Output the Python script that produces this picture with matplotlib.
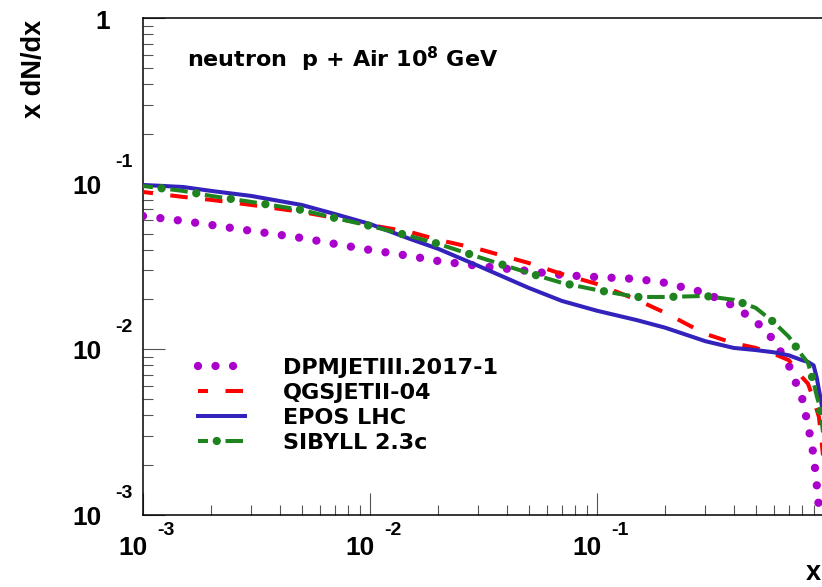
import matplotlib
matplotlib.use('Agg')
import matplotlib.pyplot as plt
from matplotlib.lines import Line2D
from matplotlib.transforms import offset_copy
from matplotlib.legend_handler import HandlerTuple

plt.rcParams['lines.scale_dashes'] = False
plt.rcParams['mathtext.fontset'] = 'dejavusans'

# x dN/dx of neutrons, p + Air at 1e8 GeV
x = [0.001, 0.0015, 0.002, 0.003, 0.005, 0.007, 0.01, 0.015, 0.02, 0.03,
     0.05, 0.07, 0.1, 0.15, 0.2, 0.3, 0.4, 0.5, 0.6, 0.7, 0.8, 0.85, 0.9,
     0.93, 0.95, 0.97, 1.0]
dpmjet = [0.0638, 0.0596, 0.0563, 0.0519, 0.0470, 0.0433, 0.0398, 0.0366, 0.0341, 0.0319,
          0.0297, 0.0281, 0.0273, 0.0266, 0.0252, 0.0219, 0.0183, 0.0148, 0.0114, 0.0080,
          0.0051, 0.0035, 0.0023, 0.0015, 0.0011, 0.0008, 0.0005]
qgsjet = [0.0891, 0.0832, 0.0798, 0.0744, 0.0675, 0.0621, 0.0563, 0.0511, 0.0458, 0.0404,
          0.0332, 0.0285, 0.0248, 0.0199, 0.0166, 0.0124, 0.0109, 0.0102, 0.0094, 0.0086,
          0.0068, 0.0062, 0.0050, 0.0043, 0.0039, 0.0030, 0.0020]
epos = [0.0982, 0.0955, 0.0904, 0.0843, 0.0744, 0.0656, 0.0571, 0.0464, 0.0404, 0.0319,
        0.0235, 0.0196, 0.0171, 0.0150, 0.0135, 0.0112, 0.0102, 0.0099, 0.0096, 0.0092,
        0.0086, 0.0084, 0.0080, 0.0067, 0.0057, 0.0049, 0.0038]
sibyll = [0.0968, 0.0904, 0.0843, 0.0776, 0.0694, 0.0621, 0.0556, 0.0483, 0.0433, 0.0361,
          0.0289, 0.0252, 0.0228, 0.0207, 0.0207, 0.0210, 0.0199, 0.0178, 0.0146, 0.0119,
          0.0092, 0.0083, 0.0063, 0.0052, 0.0047, 0.0040, 0.0028]

labels = ['DPMJETIII.2017-1', 'QGSJETII-04', 'EPOS LHC', 'SIBYLL 2.3c']
decades = [1e-3, 1e-2, 1e-1]
exps = ['-3', '-2', '-1']

c_dpm = '#aa00cc'
c_qgs = '#ff0000'
c_epos = '#3322bb'
c_sib = '#1f841f'

fig = plt.figure(figsize=(8.22, 5.87), dpi=100)
ax = fig.add_axes([143/822, 72/587, 681/822, 497/587])
ax.set_xscale('log')
ax.set_yscale('log')
ax.set_xlim(1e-3, 1)
ax.set_ylim(1e-3, 1)

dot_dpm = dict(color=c_dpm, lw=6.0, ls=(0, (0.01, 12.6)), dash_capstyle='round')
dash_qgs = dict(color=c_qgs, lw=2.9, ls=(5.4, (12.6, 12.6)), dash_capstyle='butt')
solid_epos = dict(color=c_epos, lw=2.9, ls='-')
dash_sib = dict(color=c_sib, lw=2.9, ls=(5.4, (12.6, 12.6)), dash_capstyle='butt')
dot_sib = dict(color=c_sib, lw=6.0, ls=(11.7, (0.01, 25.19)), dash_capstyle='round')

ax.plot(x, dpmjet, zorder=3, **dot_dpm)
ax.plot(x, qgsjet, zorder=4, **dash_qgs)
ax.plot(x, epos, zorder=5, **solid_epos)
ax.plot(x, sibyll, zorder=6, **dash_sib)
ax.plot(x, sibyll, zorder=6, **dot_sib)

for s in ax.spines.values():
    s.set_linewidth(1.1)
ax.tick_params(which='both', direction='in', top=False, right=False,
               labelleft=False, labelbottom=False, color='#555555', width=0.8)
ax.tick_params(which='major', length=16)
ax.tick_params(which='minor', length=7.5)

FT = dict(family='Liberation Sans', weight='bold')
FL = dict(family='DejaVu Sans', weight='bold')

# ROOT-like tick labels: "10" with the exponent above and to the right
for v, e in zip(decades, exps):
    tr = offset_copy(ax.transData, fig=fig, x=-41, y=-10, units='dots')
    ax.text(1e-3, v, '10', transform=tr, ha='right', va='baseline', fontsize=19, **FT)
    tr = offset_copy(ax.transData, fig=fig, x=-28, y=17, units='dots')
    ax.text(1e-3, v, e, transform=tr, ha='left', va='baseline', fontsize=14, **FT)
    tr = offset_copy(ax.transData, fig=fig, x=-10, y=-40, units='dots')
    ax.text(v, 1e-3, '10', transform=tr, ha='center', va='baseline', fontsize=19, **FT)
    tr = offset_copy(ax.transData, fig=fig, x=14, y=-20, units='dots')
    ax.text(v, 1e-3, e, transform=tr, ha='left', va='baseline', fontsize=14, **FT)
tr = offset_copy(ax.transData, fig=fig, x=-33, y=-11, units='dots')
ax.text(1e-3, 1, '1', transform=tr, ha='right', va='baseline', fontsize=19, **FT)

fig.text(33.5/822, 1 - 20/587, 'x dN/dx', rotation=90, ha='center', va='top',
         fontsize=19.5, **FT)
fig.text(813/822, 1 - 580/587, 'x', ha='center', va='baseline', fontsize=19.5, **FT)
fig.text(187/822, 1 - 67/587, r'neutron  p + Air 10$^{\mathbf{8}}$ GeV',
         ha='left', va='baseline', fontsize=16, **FL)

h_dpm = Line2D([], [], **dot_dpm)
h_qgs = Line2D([], [], **dash_qgs)
h_epos = Line2D([], [], **solid_epos)
h_sib = (Line2D([], [], **dash_sib), Line2D([], [], **dot_sib))
ax.legend([h_dpm, h_qgs, h_epos, h_sib], labels,
          handler_map={tuple: HandlerTuple(ndivide=1)},
          loc='upper left', bbox_to_anchor=(198/822, 1 - 358/587),
          bbox_transform=fig.transFigure, frameon=False, borderpad=0,
          borderaxespad=0, handlelength=2.12, handletextpad=1.71,
          labelspacing=0.22, prop=dict(family='DejaVu Sans', weight='bold', size=16))

fig.savefig('out.png', dpi=100)
